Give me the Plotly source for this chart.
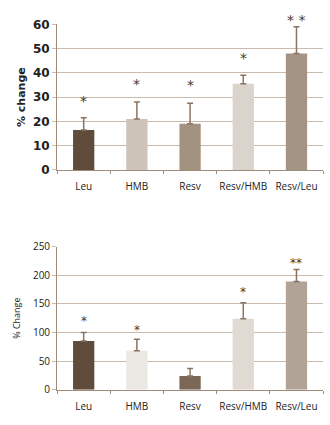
import plotly.graph_objects as go

categories = ["Leu", "HMB", "Resv", "Resv/HMB", "Resv/Leu"]

# upper panel
top_range = [0, 60]
top_values = [16.5, 21, 19, 35.5, 48]
top_err = [5, 7, 8.5, 3.5, 11]
top_marks = ["*", "*", "*", "*", "* *"]
top_mark_y = [28.5, 35.5, 35, 46, 62]
top_colors = ["#5f4c3c", "#cdc3b9", "#a29381", "#dbd4cd", "#a39483"]

# lower panel
bot_range = [0, 250]
bot_values = [85, 68, 24, 124, 189]
bot_err = [15, 20, 13, 28, 21]
bot_marks = ["*", "*", "", "*", "**"]
bot_mark_y = [120, 104, 0, 170, 221]
bot_colors = ["#5f4c3c", "#ece8e3", "#7b6756", "#e1dad3", "#b1a396"]

axis_col = "#a08c7a"
grid_col = "#c9bbae"
err_col = "#8a7461"
mark_col = "#4a3a2c"

fig = go.Figure()

fig.add_trace(go.Bar(
    x=categories, y=top_values, marker=dict(color=top_colors, line=dict(width=0)),
    error_y=dict(type="data", array=top_err, arrayminus=[0] * 5, symmetric=False,
                 color=err_col, thickness=1.5, width=3),
    xaxis="x", yaxis="y", showlegend=False,
))
fig.add_trace(go.Bar(
    x=categories, y=bot_values, marker=dict(color=bot_colors, line=dict(width=0)),
    error_y=dict(type="data", array=bot_err, arrayminus=[0] * 5, symmetric=False,
                 color=err_col, thickness=1.5, width=3),
    xaxis="x2", yaxis="y2", showlegend=False,
))

# significance markers, placed in axis-domain units so ones above the range still show
annotations = []
for c, m, y in zip(categories, top_marks, top_mark_y):
    if m:
        annotations.append(dict(
            x=c, xref="x", y=(y - top_range[0]) / (top_range[1] - top_range[0]),
            yref="y domain", text=m, showarrow=False, yanchor="middle",
            font=dict(family="DejaVu Sans", size=14, color=mark_col)))
for c, m, y in zip(categories, bot_marks, bot_mark_y):
    if m:
        annotations.append(dict(
            x=c, xref="x2", y=(y - bot_range[0]) / (bot_range[1] - bot_range[0]),
            yref="y2 domain", text=m, showarrow=False, yanchor="middle",
            font=dict(family="DejaVu Sans", size=12, color=mark_col)))

xcommon = dict(showline=True, linecolor=axis_col, linewidth=1, ticks="outside",
               tickson="boundaries", ticklen=3, tickcolor=axis_col, showgrid=False,
               domain=[0.173, 0.979], tickangle=0, ticklabelstandoff=7,
               tickfont=dict(family="Open Sans", size=10, color="#222"))
ycommon = dict(showline=True, linecolor=axis_col, linewidth=1, ticks="outside",
               ticklen=4, tickcolor=grid_col, showgrid=True, gridcolor=grid_col,
               gridwidth=1, zeroline=False)

fig.update_layout(
    width=330, height=425,
    margin=dict(l=0, r=0, t=0, b=0),
    paper_bgcolor="white", plot_bgcolor="white",
    bargap=0.6,
    xaxis=dict(**xcommon, anchor="y"),
    yaxis=dict(**ycommon, domain=[0.605, 0.96], range=top_range, dtick=10, anchor="x",
               tickfont=dict(family="DejaVu Sans", size=12, color="#222", weight="bold"),
               title=dict(text="% change", standoff=5,
                          font=dict(family="DejaVu Sans", size=11, color="#222", weight="bold"))),
    xaxis2=dict(**xcommon, anchor="y2"),
    yaxis2=dict(**ycommon, domain=[0.069, 0.418], range=bot_range, dtick=50, anchor="x2",
                tickfont=dict(family="Open Sans", size=10, color="#222"),
                title=dict(text="% Change", standoff=10,
                           font=dict(family="Open Sans", size=9, color="#222"))),
    annotations=annotations,
)

fig.write_html("out.html")
